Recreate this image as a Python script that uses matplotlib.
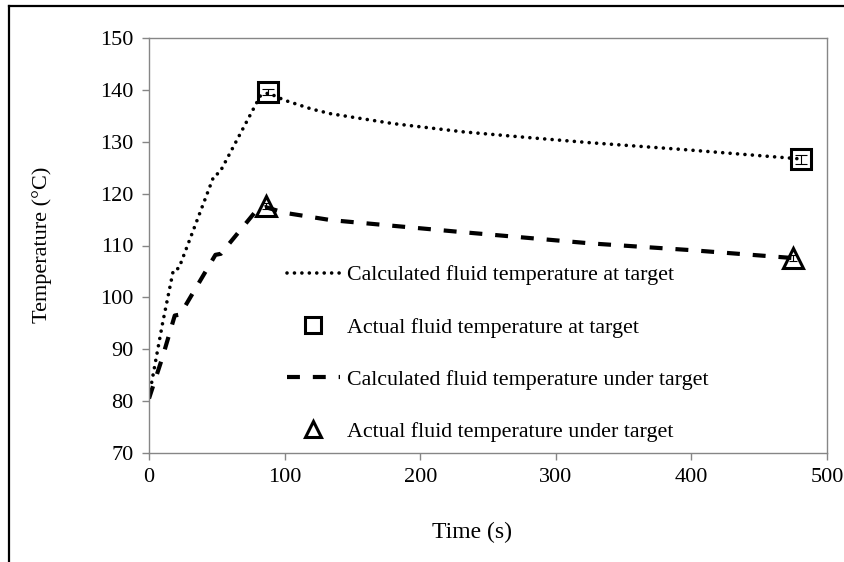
import matplotlib
matplotlib.use("Agg")
import matplotlib.pyplot as plt
from matplotlib.lines import Line2D

plt.rcParams['font.family'] = ['Liberation Serif', 'DejaVu Serif']

# Calculated fluid temperature at target (dotted)
calc_at_t = [0, 10, 18, 22, 48, 52, 82, 88, 100, 120, 134, 180, 232, 280, 326, 394, 480]
calc_at_T = [80.8, 95.0, 105.3, 105.6, 123.5, 124.0, 138.8, 139.4, 138.0, 136.3, 135.4,
             133.5, 131.9, 130.8, 129.8, 128.5, 126.7]

# Actual fluid temperature at target (squares)
act_at_t = [88, 481]
act_at_T = [139.6, 126.6]
act_at_err = [0.6, 0.8]

# Calculated fluid temperature under target (dashed)
calc_under_t = [0, 10, 19, 23, 49, 53, 80, 86, 100, 134, 230, 326, 400, 474]
calc_under_T = [80.5, 88.5, 96.5, 96.7, 108.2, 108.4, 117.0, 117.4, 116.3, 114.9,
                112.6, 110.4, 109.1, 107.6]

# Actual fluid temperature under target (triangles)
act_under_t = [86, 475]
act_under_T = [117.6, 107.6]
act_under_err = [0.6, 0.6]

x_ticks = [0, 100, 200, 300, 400, 500]
y_ticks = [70, 80, 90, 100, 110, 120, 130, 140, 150]

labels = ["Calculated fluid temperature at target",
          "Actual fluid temperature at target",
          "Calculated fluid temperature under target",
          "Actual fluid temperature under target"]

W, H = 844, 562
fig = plt.figure(figsize=(W / 100, H / 100), dpi=100)
ax = fig.add_axes([149 / W, 1 - 453 / H, (827 - 149) / W, (453 - 38) / H])

l1, = ax.plot(calc_at_t, calc_at_T, color='black', lw=2.6,
              linestyle=(0, (0.01, 2.05)), dash_capstyle='round', label=labels[0])
l3, = ax.plot(calc_under_t, calc_under_T, color='black', lw=3.0,
              linestyle=(0, (3.1, 3.1)), label=labels[2])

ax.errorbar(act_at_t, act_at_T, yerr=act_at_err, fmt='none', ecolor='black',
            elinewidth=0.8, capsize=4, capthick=0.8)
ax.errorbar(act_under_t, act_under_T, yerr=act_under_err, fmt='none', ecolor='black',
            elinewidth=0.8, capsize=3, capthick=0.8)
l2, = ax.plot(act_at_t, act_at_T, linestyle='none', marker='s', ms=14,
              mfc='none', mec='black', mew=2.2, label=labels[1])
l4, = ax.plot(act_under_t, act_under_T, linestyle='none', marker='^', ms=15,
              mfc='none', mec='black', mew=2.2, label=labels[3])

ax.set_xlim(0, 500)
ax.set_ylim(70, 150)
ax.set_xticks(x_ticks)
ax.set_yticks(y_ticks)
ax.tick_params(direction='out', length=5, width=1, color='#868686',
               labelsize=16, labelcolor='black', pad=6)
for s in ax.spines.values():
    s.set_color('#868686')
    s.set_linewidth(1.0)

ax.set_xlabel("Time (s)", fontsize=17)
ax.xaxis.set_label_coords((472 - 149) / 678, (453 - 522) / 415)
ax.set_ylabel("Temperature (°C)", fontsize=16)
ax.yaxis.set_label_coords((52 - 149) / 678, (453 - 245) / 415)

leg = ax.legend(handles=[l1, l2, l3, l4], loc='upper left',
                bbox_to_anchor=((287 - 149) / 678, (453 - 265) / 415),
                frameon=False, fontsize=15.8, handlelength=2.4,
                handletextpad=0.32, labelspacing=1.45, borderpad=0,
                borderaxespad=0, markerscale=0.8)

# figure border lines (top and left)
fig.add_artist(Line2D([9 / W, 1], [1 - 6 / H, 1 - 6 / H], transform=fig.transFigure,
                      color='black', lw=1.6))
fig.add_artist(Line2D([9 / W, 9 / W], [0, 1 - 6 / H], transform=fig.transFigure,
                      color='black', lw=1.6))

fig.savefig("out.png", dpi=100)
